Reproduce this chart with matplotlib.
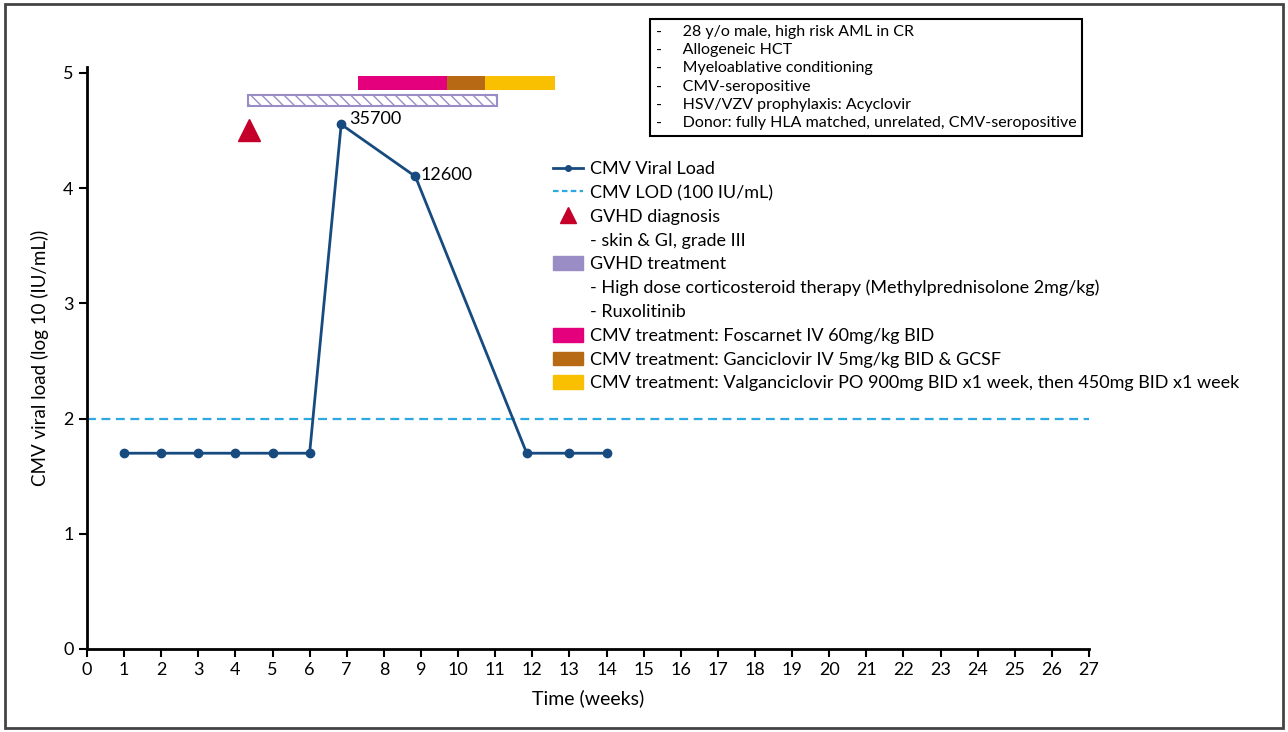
import numpy as np
import matplotlib.pyplot as plt
from matplotlib.lines import Line2D
from matplotlib.patches import Patch, Rectangle

plt.rcParams['font.family'] = ['Lato', 'DejaVu Sans']
plt.rcParams['hatch.linewidth'] = 1.0

# viral load by week (IU/mL)
weeks = [1, 2, 3, 4, 5, 6, 6.85, 8.85, 11.85, 13, 14]
viral_load = [50, 50, 50, 50, 50, 50, 35700, 12600, 50, 50, 50]
labelled = [35700, 12600]

lod = 100
gvhd_week = 4.37
gvhd_level = 4.5

# treatment periods (start week, end week)
gvhd_tx = (4.35, 11.05)
cmv_tx_names = ['Foscarnet IV 60mg/kg BID',
                'Ganciclovir IV 5mg/kg BID & GCSF',
                'Valganciclovir PO 900mg BID x1 week, then 450mg BID x1 week']
cmv_tx_start = [7.3, 9.7, 10.73]
cmv_tx_end = [9.7, 10.73, 12.6]
cmv_tx_colors = ['#E4007C', '#B86914', '#F8C000']

patient_info = ['28 y/o male, high risk AML in CR',
                'Allogeneic HCT',
                'Myeloablative conditioning',
                'CMV-seropositive',
                'HSV/VZV prophylaxis: Acyclovir',
                'Donor: fully HLA matched, unrelated, CMV-seropositive']

line_col = '#174B80'
lod_col = '#2BA9E0'
tri_col = '#C4002A'
purple = '#9A8DC6'

fig = plt.figure(figsize=(12.88, 7.32), dpi=100)
ax = fig.add_axes([0.0675, 0.1134, 0.778, 0.795])

log_load = np.log10(viral_load)
ax.plot(weeks, log_load, color=line_col, lw=2, marker='o', ms=6, zorder=3)
for v in labelled:
    i = viral_load.index(v)
    if v == 35700:
        ax.annotate(str(v), (weeks[i], log_load[i]), xytext=(6, 0),
                    textcoords='offset points', fontsize=13, va='baseline', ha='left')
    else:
        ax.annotate(str(v), (weeks[i], log_load[i]), xytext=(4, 1),
                    textcoords='offset points', fontsize=13, va='center', ha='left')

ax.axhline(np.log10(lod), color=lod_col, lw=1.6, ls=(0, (4, 2.5)), zorder=1)
ax.plot([gvhd_week], [gvhd_level], marker='^', color=tri_col, ms=16, ls='none')

ax.barh(4.76, gvhd_tx[1] - gvhd_tx[0], left=gvhd_tx[0], height=0.1,
        facecolor='white', edgecolor=purple, hatch='\\\\\\', lw=1.5)
for s, e, c in zip(cmv_tx_start, cmv_tx_end, cmv_tx_colors):
    ax.barh(4.91, e - s, left=s, height=0.12, color=c, lw=0)

ax.set_xlim(0, 27)
ax.set_ylim(0, 5.05)
ax.set_xticks(range(0, 28))
ax.set_yticks(range(0, 6))
ax.tick_params(labelsize=13, length=6, width=1.5, direction='out')
ax.spines[['top', 'right']].set_visible(False)
ax.spines[['left', 'bottom']].set_linewidth(2)
ax.set_xlabel('Time (weeks)', fontsize=14, labelpad=8)
ax.set_ylabel('CMV viral load (log 10 (IU/mL))', fontsize=13.5, labelpad=10)

blank = Patch(color='none')
handles = [Line2D([], [], color=line_col, lw=2, marker='o', ms=4),
           Line2D([], [], color=lod_col, lw=1.6, ls=(0, (2.5, 1.5))),
           Line2D([], [], color=tri_col, marker='^', ms=12, ls='none'),
           blank,
           Patch(color=purple),
           blank, blank]
labels = ['CMV Viral Load', 'CMV LOD (100 IU/mL)', 'GVHD diagnosis',
          '- skin & GI, grade III', 'GVHD treatment',
          '- High dose corticosteroid therapy (Methylprednisolone 2mg/kg)',
          '- Ruxolitinib']
for n, c in zip(cmv_tx_names, cmv_tx_colors):
    handles.append(Patch(color=c))
    labels.append('CMV treatment: ' + n)
fig.legend(handles, labels, loc='upper left', bbox_to_anchor=(0.4293, 0.780),
           frameon=False, fontsize=13, handlelength=1.65, handleheight=0.8,
           handletextpad=0.4, labelspacing=0.42, borderpad=0, borderaxespad=0)

info = '\n'.join('-     ' + t for t in patient_info)
fig.text(0.509, 0.966, info, fontsize=11.5, va='top', ha='left', linespacing=1.39,
         bbox=dict(boxstyle='square,pad=0.35', facecolor='white', edgecolor='black', lw=1.5))

fig.add_artist(Rectangle((0.004, 0.005), 0.992, 0.99, transform=fig.transFigure,
                         fill=False, edgecolor='#444444', lw=2))

fig.savefig('out.png', dpi=100)
